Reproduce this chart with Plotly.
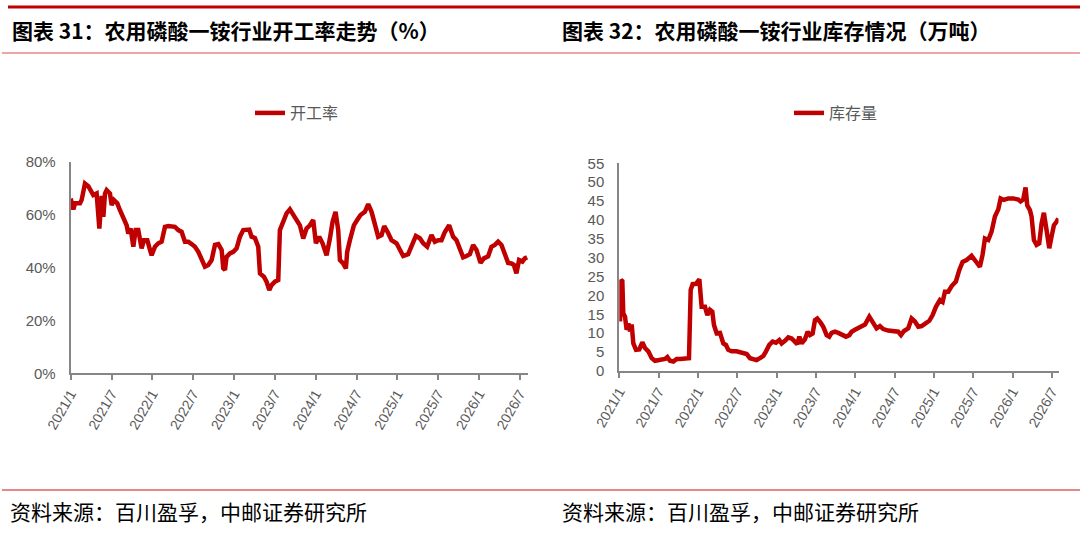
import plotly.graph_objects as go

# x values are months counted from 2021/1
tick_text = ["2021/1", "2021/7", "2022/1", "2022/7", "2023/1", "2023/7",
             "2024/1", "2024/7", "2025/1", "2025/7", "2026/1", "2026/7"]
tick_vals = [0, 6, 12, 18, 24, 30, 36, 42, 48, 54, 60, 66]
rate_ticks = [0, 20, 40, 60, 80]
rate_labels = ["0%", "20%", "40%", "60%", "80%"]
stock_ticks = [0, 5, 10, 15, 20, 25, 30, 35, 40, 45, 50, 55]

work_t = [0.0, 0.39, 0.63, 1.37, 1.61, 2.10, 2.59, 3.08, 3.32, 3.81, 4.21, 4.55, 4.80, 5.04,
          5.28, 5.77, 6.02, 6.36, 6.85, 7.24, 7.73, 8.22, 8.46, 8.81, 9.20, 9.54, 9.93, 10.18,
          10.42, 10.77, 11.26, 11.65, 11.89, 12.38, 12.87, 13.36, 13.85, 14.34, 15.32, 15.81,
          16.30, 16.79, 17.28, 17.77, 18.26, 18.75, 19.24, 19.73, 20.22, 20.71, 21.20, 21.69,
          22.18, 22.42, 22.67, 22.91, 23.40, 23.89, 24.38, 24.87, 25.36, 26.24, 26.58, 27.07,
          27.56, 27.81, 28.39, 28.78, 29.18, 29.52, 30.01, 30.50, 30.74, 31.23, 31.72, 32.21,
          32.70, 33.19, 33.68, 34.17, 34.66, 35.15, 35.64, 36.03, 36.52, 37.01, 37.60, 38.09,
          38.48, 38.92, 39.31, 39.56, 40.04, 40.44, 40.63, 41.03, 41.61, 42.10, 42.59, 43.23,
          43.72, 44.21, 44.70, 45.19, 45.68, 46.07, 46.65, 47.14, 47.88, 48.37, 48.86, 49.59,
          50.08, 50.72, 51.31, 51.80, 52.38, 53.02, 53.51, 54.00, 54.49, 54.98, 55.61, 56.20,
          56.69, 57.18, 57.67, 58.16, 58.65, 59.14, 59.63, 60.22, 60.71, 61.34, 61.83, 62.32,
          62.81, 63.30, 63.79, 64.28, 64.77, 65.11, 65.50, 65.89, 66.38, 66.73, 67.07]
work_rate = [66.0, 61.9, 64.2, 64.2, 65.5, 71.7, 70.7, 68.6, 67.3, 67.9, 54.7, 67.0, 59.1, 67.9,
             69.2, 67.9, 63.5, 65.4, 64.2, 61.6, 59.1, 55.9, 52.8, 54.7, 47.8, 54.1, 54.1, 50.9,
             47.2, 50.3, 50.3, 46.6, 44.6, 47.8, 49.1, 49.7, 55.3, 55.6, 55.3, 54.1,
             53.4, 49.7, 49.7, 48.8, 47.8, 45.9, 42.8, 40.3, 40.9, 42.8, 48.5, 48.8,
             46.6, 39.7, 39.0, 44.0, 45.3, 45.9, 47.2, 51.6, 54.1, 54.3, 51.6, 51.1,
             47.8, 37.7, 36.5, 34.6, 31.4, 33.3, 34.6, 35.2, 54.1, 57.9, 60.4, 61.9,
             59.7, 57.9, 55.9, 50.9, 54.7, 55.9, 57.9, 49.1, 51.6, 49.1, 44.6, 50.9,
             57.2, 61.0, 54.1, 42.8, 41.5, 39.6, 45.9, 50.3, 55.9, 57.9, 59.8, 61.0,
             63.9, 61.0, 55.9, 51.6, 52.2, 55.6, 53.0, 50.3, 49.1, 46.6, 44.3, 45.0,
             48.5, 51.9, 51.0, 49.1, 47.8, 52.2, 49.7, 50.3, 50.3, 53.4, 55.9, 51.6,
             50.3, 47.2, 43.8, 44.3, 45.0, 48.5, 46.6, 41.7, 43.4, 44.2, 47.8, 48.5,
             49.7, 48.5, 44.6, 41.7, 41.5, 41.0, 37.8, 42.8, 42.2, 43.4, 43.8]

stock_t = [0.11, 0.26, 0.46, 0.61, 0.87, 1.12, 1.38, 1.63, 1.89, 2.14, 2.55, 3.05, 3.51, 3.92,
           4.43, 4.94, 5.45, 5.95, 6.46, 6.97, 7.33, 7.73, 8.24, 8.75, 9.26, 9.77, 10.28, 10.63,
           10.89, 11.19, 11.70, 12.21, 12.56, 13.07, 13.43, 13.83, 14.19, 14.44, 14.85, 15.36,
           15.87, 16.27, 16.63, 17.14, 17.90, 18.51, 18.92, 19.43, 19.94, 20.44, 20.95, 21.46,
           21.97, 22.38, 22.88, 23.39, 23.90, 24.41, 24.76, 25.27, 25.78, 26.29, 26.80, 27.15,
           27.46, 27.81, 28.32, 28.73, 29.09, 29.49, 29.85, 30.20, 30.71, 31.12, 31.63, 32.03,
           32.39, 32.90, 33.41, 33.92, 34.58, 35.09, 35.44, 35.95, 36.46, 36.97, 37.48, 38.14,
           38.65, 39.25, 39.76, 40.27, 41.03, 41.80, 42.56, 42.97, 43.43, 44.08, 44.59, 45.10,
           45.61, 46.12, 46.78, 47.29, 47.80, 48.30, 48.91, 49.32, 49.68, 50.19, 50.70, 51.35,
           51.86, 52.37, 52.98, 53.74, 54.40, 55.01, 55.42, 55.78, 56.29, 56.79, 57.30, 57.81,
           58.17, 58.67, 59.34, 60.10, 60.86, 61.22, 61.62, 61.98, 62.23, 62.64, 62.89, 63.25,
           63.66, 64.06, 64.42, 64.77, 65.18, 65.59, 65.94, 66.30, 66.70, 66.96]
stock = [13.1, 24.1, 23.8, 15.3, 14.4, 10.9, 12.6, 10.5, 12.3, 7.3, 5.6, 5.7, 7.6, 6.1,
         5.2, 3.4, 2.7, 2.9, 2.8, 3.2, 3.7, 2.7, 2.5, 3.2, 3.2, 3.2, 3.4, 3.4,
         21.5, 23.0, 23.1, 24.3, 17.0, 17.0, 14.8, 16.2, 15.7, 12.2, 10.0, 10.1,
         7.3, 6.9, 5.6, 5.2, 5.2, 4.9, 4.5, 4.5, 3.4, 3.2, 2.9, 3.4,
         4.0, 5.2, 6.9, 7.8, 7.5, 8.2, 7.3, 8.0, 8.9, 8.6, 7.6, 7.1,
         9.1, 7.3, 8.4, 10.4, 9.5, 9.9, 13.5, 13.9, 12.8, 11.7, 9.5, 9.1,
         10.1, 10.4, 10.1, 9.8, 9.1, 9.5, 10.4, 10.9, 11.3, 11.7, 12.3, 14.4,
         13.1, 11.3, 11.9, 11.1, 10.7, 10.4, 10.4, 9.5, 10.6, 11.3, 13.9, 13.1,
         11.7, 11.9, 12.6, 13.3, 14.8, 17.0, 18.8, 18.3, 21.0, 21.0, 22.5, 23.7,
         26.7, 28.9, 29.4, 30.5, 29.0, 27.6, 30.8, 35.1, 34.7, 36.9, 40.9, 42.8,
         45.7, 45.3, 45.7, 45.7, 45.4, 44.9, 45.4, 48.6, 43.9, 42.6, 40.9, 34.7,
         33.4, 33.8, 39.1, 41.9, 37.3, 32.5, 35.6, 38.6, 39.5, 40.4]

W, H = 1080, 541
red = "#C00000"
gray = "#595959"
axis_gray = "#868686"
tick_font = dict(family="Liberation Sans Narrow, Liberation Sans, Arial", size=15, color=gray)
cjk = "Noto Sans CJK SC"


def px(x):
    return x / W


def py(y):
    return (H - y) / H


fig = go.Figure()
fig.add_trace(go.Scatter(x=work_t, y=work_rate, mode="lines", name="开工率",
                         line=dict(color=red, width=4.5), xaxis="x", yaxis="y",
                         legend="legend"))
fig.add_trace(go.Scatter(x=stock_t, y=stock, mode="lines", name="库存量",
                         line=dict(color=red, width=4.5), xaxis="x2", yaxis="y2",
                         legend="legend2"))

xcommon = dict(tickmode="array", tickvals=tick_vals, ticktext=tick_text, tickangle=-60,
               ticks="outside", ticklen=5, tickcolor=axis_gray, tickwidth=1.5,
               showline=True, linecolor=axis_gray, linewidth=2, showgrid=False,
               zeroline=False, automargin=False, tickfont=dict(tick_font, size=14))
ycommon = dict(showline=True, linecolor=axis_gray, linewidth=2, showgrid=False,
               zeroline=False, ticks="", automargin=False, ticklabelstandoff=10,
               tickfont=tick_font)

legend_common = dict(orientation="h", yanchor="middle", xanchor="left", bgcolor="rgba(0,0,0,0)",
                     font=dict(family=cjk, size=16, color=gray))

fig.update_layout(
    width=W, height=H,
    margin=dict(l=0, r=0, t=0, b=0),
    paper_bgcolor="white", plot_bgcolor="white",
    showlegend=True,
    xaxis=dict(xcommon, domain=[px(70.7), px(528)], range=[0, 67.2], anchor="y"),
    yaxis=dict(ycommon, domain=[py(373.3), py(161.5)], range=[0, 80], tickmode="array",
               tickvals=rate_ticks, ticktext=rate_labels, anchor="x"),
    xaxis2=dict(xcommon, domain=[px(619.3), px(1058.5)], range=[0, 67.0], anchor="y2"),
    yaxis2=dict(ycommon, domain=[py(371), py(163.3)], range=[0, 55], tickmode="array",
                tickvals=stock_ticks, anchor="x2"),
    legend=dict(legend_common, x=px(250), y=py(113)),
    legend2=dict(legend_common, x=px(789), y=py(113)),
)

# header / footer rules
fig.add_shape(type="line", xref="paper", yref="paper", x0=px(8), x1=1, y0=py(7), y1=py(7),
              line=dict(color=red, width=3))
fig.add_shape(type="line", xref="paper", yref="paper", x0=px(2), x1=1, y0=py(53), y1=py(53),
              line=dict(color="#E8878A", width=1.5))
fig.add_shape(type="line", xref="paper", yref="paper", x0=px(2), x1=1, y0=py(490), y1=py(490),
              line=dict(color="#E8878A", width=2))

titles = [("图表 31：农用磷酸一铵行业开工率走势（%）", 10),
          ("图表 32：农用磷酸一铵行业库存情况（万吨）", 560)]
for text, x0 in titles:
    fig.add_annotation(text="<b>" + text + "</b>", xref="paper", yref="paper",
                       x=px(x0), y=py(30), xanchor="left", yanchor="middle", showarrow=False,
                       font=dict(family=cjk, size=21, color="#000000"))

for x0 in (8, 560):
    fig.add_annotation(text="资料来源：百川盈孚，中邮证券研究所", xref="paper", yref="paper",
                       x=px(x0), y=py(511), xanchor="left", yanchor="middle", showarrow=False,
                       font=dict(family=cjk, size=21, color="#000000"))

# the page keeps the browser's default 8px body margin otherwise
fig.write_html("out.html", config={"displayModeBar": False},
               post_script="document.body.style.margin='0';")
